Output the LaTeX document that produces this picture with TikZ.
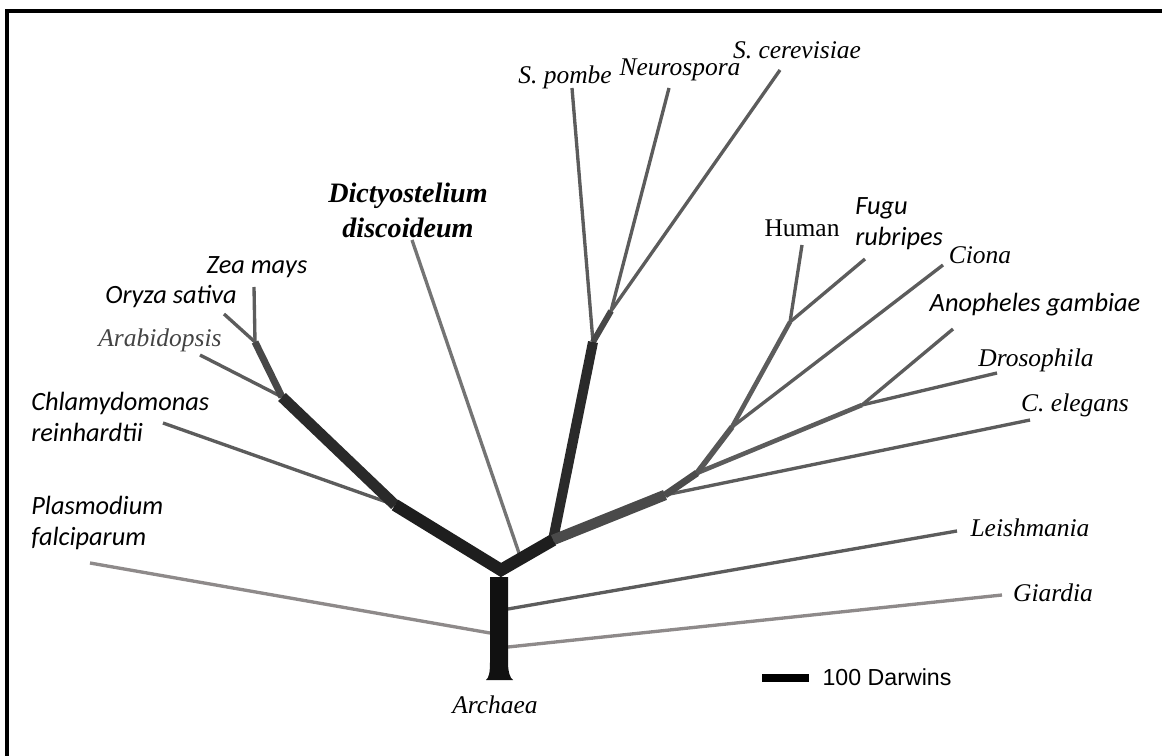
\documentclass[tikz,border=0pt]{standalone}
\usepackage{fontspec}
\setmainfont{Liberation Serif}
\setsansfont{Liberation Sans}
\newfontfamily\calibri{Carlito}
\definecolor{trunkcol}{HTML}{111111}
\definecolor{stemcol}{HTML}{1E1E1E}
\definecolor{branchcol}{HTML}{2A2A2A}
\definecolor{midcol}{HTML}{484848}
\definecolor{twigcol}{HTML}{5C5C5C}
\definecolor{palecol}{HTML}{8E8A8A}
\definecolor{arabcol}{HTML}{444444}

\begin{document}
\begin{tikzpicture}[x=0.02cm, y=-0.02cm,
  twig/.style={line width=1.9pt, draw=twigcol},
  pale/.style={line width=1.9pt, draw=palecol},
  limb/.style={line width=#1, line join=miter},
  taxon/.style={font=\fontsize{14.5}{17}\selectfont\itshape, inner sep=0pt},
  taxcal/.style={font=\calibri\fontsize{15}{17.8}\selectfont\itshape, inner sep=0pt, align=left}]

  \useasboundingbox (0,0) rectangle (1162,756);
  \draw[line width=1.8pt] (7,756) -- (7,11) -- (1162,11);

  \coordinate (root) at (501,570);
  \coordinate (plantA) at (395,505);
  \coordinate (plantB) at (282,397);
  \coordinate (plantC) at (255,342);
  \coordinate (opis) at (553,540);
  \coordinate (fungA) at (593,342);
  \coordinate (fungB) at (611,311);
  \coordinate (animA) at (665,495);
  \coordinate (animB) at (697,473);
  \coordinate (chord) at (732,427);
  \coordinate (vert) at (790,322);
  \coordinate (insect) at (862,405);
  \coordinate (baseP) at (490,633);
  \coordinate (baseL) at (508,609);
  \coordinate (baseG) at (508,647);
  \coordinate (dictyB) at (520,556);

  \coordinate (zea) at (254,287);
  \coordinate (oryza) at (224,314);
  \coordinate (arab) at (200,355);
  \coordinate (chlamy) at (163,423);
  \coordinate (plasmo) at (90,563);
  \coordinate (dicty) at (412,240);
  \coordinate (pombe) at (572,88);
  \coordinate (neuro) at (669,88);
  \coordinate (cerev) at (780,70);
  \coordinate (human) at (802,245);
  \coordinate (fugu) at (865,259);
  \coordinate (ciona) at (943,265);
  \coordinate (anoph) at (953,329);
  \coordinate (droso) at (997,373);
  \coordinate (celeg) at (1030,420);
  \coordinate (leish) at (957,531);
  \coordinate (giard) at (1002,595);

  \node[taxon] (pombeL) at (565,77) {S. pombe};
  \node[taxon] (neuroL) at (680,70) {Neurospora};
  \node[taxon] (cerevL) at (797,50) {S. cerevisiae};
  \node[font=\fontsize{16}{20}\selectfont\bfseries\itshape, align=center, inner sep=0pt] (dictyL) at (408,210) {Dictyostelium\\discoideum};
  \node[taxcal] (zeaL) at (257,267) {Zea mays};
  \node[taxcal] (oryzaL) at (171,297) {Oryza sativa};
  \node[taxon, text=arabcol] (arabL) at (160,340) {Arabidopsis};
  \node[taxcal, anchor=west] (chlamyL) at (31,417) {Chlamydomonas\\reinhardtii};
  \node[taxcal, anchor=west] (plasmoL) at (31,523) {Plasmodium\\falciparum};
  \node[taxon, font=\fontsize{14.5}{17}\selectfont] (humanL) at (802,228) {Human};
  \node[taxcal, anchor=west] (fuguL) at (855,224) {Fugu\\rubripes};
  \node[taxon] (cionaL) at (980,255) {Ciona};
  \node[taxcal] (anophL) at (1035,305) {Anopheles gambiae};
  \node[taxon] (drosoL) at (1036,360) {Drosophila};
  \node[taxon] (celegL) at (1075,405) {C. elegans};
  \node[taxon] (leishL) at (1030,528) {Leishmania};
  \node[taxon] (giardL) at (1053,593) {Giardia};
  \node[taxon] (archL) at (495,705) {Archaea};

  \draw[pale] (baseP) -- (plasmo);
  \draw[pale] (baseG) -- (giard);
  \draw[twig] (baseL) -- (leish);
  \draw[twig] (plantA) -- (chlamy);
  \draw[twig] (plantB) -- (arab);
  \draw[twig] (plantC) -- (oryza);
  \draw[twig] (plantC) -- (zea);
  \draw[twig, draw=twigcol!85!white] (dictyB) -- (dicty);
  \draw[twig] (fungA) -- (pombe);
  \draw[twig] (fungB) -- (neuro);
  \draw[twig] (fungB) -- (cerev);
  \draw[twig] (vert) -- (human);
  \draw[twig] (vert) -- (fugu);
  \draw[twig] (chord) -- (ciona);
  \draw[twig] (insect) -- (anoph);
  \draw[twig] (insect) -- (droso);
  \draw[twig] (animA) -- (celeg);
  \draw[limb=2.6pt, twigcol] (animB) -- (insect);
  \draw[limb=2.6pt, twigcol] (chord) -- (vert);
  \draw[limb=3.2pt, twigcol!95!black] (animB) -- (chord);
  \draw[limb=4pt, midcol!80!twigcol] (animA) -- (animB);
  \draw[limb=3.4pt, midcol] (fungA) -- (fungB);
  \draw[limb=4pt, midcol] (plantB) -- (plantC);
  \draw[limb=6.3pt, branchcol] (plantA) -- (plantB);
  \draw[limb=5.7pt, branchcol] (opis) -- (fungA);
  \draw[limb=6pt, branchcol!85!white] (opis) -- (animA);
  \draw[limb=7pt, stemcol] (plantA) -- (root) -- (opis);

  \fill[trunkcol] (490,577) -- (508,577) -- (508,662) .. controls (508,672) and (510,678) .. (513,680)
    -- (486,680) .. controls (489,678) and (490,672) .. (490,662) -- cycle;

  \coordinate (barL) at (762,678);
  \coordinate (barR) at (809,678);
  \draw[line width=4.5pt] (barL) -- (barR);
  \node[font=\sffamily\fontsize{13.2}{15}\selectfont, inner sep=0pt] (darwinL) at (887,677) {100 Darwins};
\end{tikzpicture}
\end{document}
